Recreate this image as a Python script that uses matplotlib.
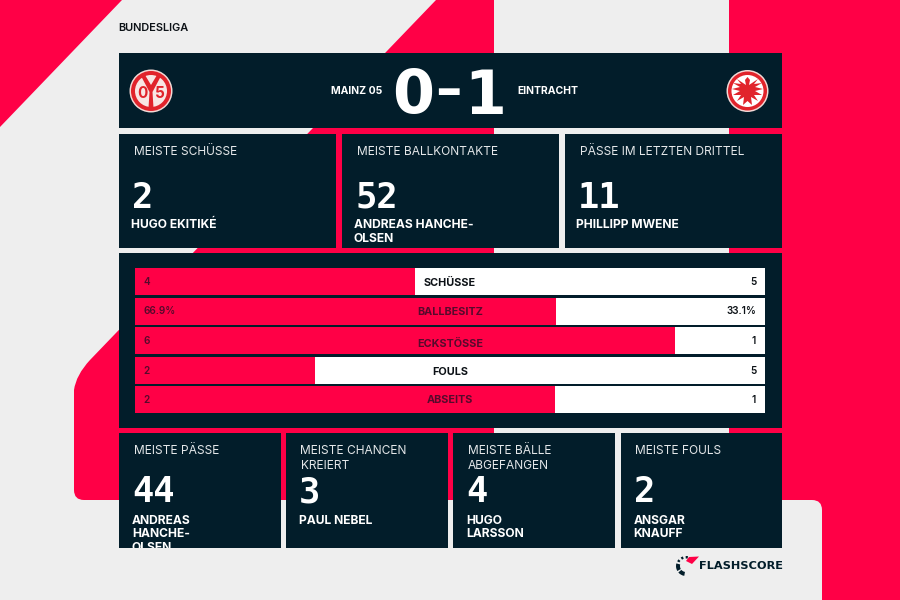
import matplotlib
matplotlib.use("Agg")
import matplotlib.pyplot as plt
from matplotlib.patches import Circle, PathPatch, Polygon, Rectangle, Wedge
from matplotlib.path import Path

RED = "#ff0046"
DARK = "#021d2a"
BG = "#eeeeee"
MAROON = "#560a2c"
INK = "#0c1116"
CREST = "#e1232b"

plt.rcParams["font.family"] = ["Inter", "Roboto", "DejaVu Sans"]

# Match stats
stat_labels = ["SCHÜSSE", "BALLBESITZ", "ECKSTÖSSE", "FOULS", "ABSEITS"]
home_values = [4, 66.9, 6, 2, 2]
away_values = [5, 33.1, 1, 5, 1]
home_text = ["4", "66.9%", "6", "2", "2"]
away_text = ["5", "33.1%", "1", "5", "1"]

# Header
competition = "BUNDESLIGA"
home_team = "MAINZ 05"
away_team = "EINTRACHT"
score_home = "0"
score_away = "1"

# Player cards
top_titles = ["MEISTE SCHÜSSE", "MEISTE BALLKONTAKTE", "PÄSSE IM LETZTEN DRITTEL"]
top_numbers = ["2", "52", "11"]
top_players = ["HUGO EKITIKÉ", "ANDREAS HANCHE-\nOLSEN", "PHILLIPP MWENE"]
bottom_titles = ["MEISTE PÄSSE", "MEISTE CHANCEN\nKREIERT", "MEISTE BÄLLE\nABGEFANGEN", "MEISTE FOULS"]
bottom_numbers = ["44", "3", "4", "2"]
bottom_players = ["ANDREAS\nHANCHE-\nOLSEN", "PAUL NEBEL", "HUGO\nLARSSON", "ANSGAR\nKNAUFF"]

fig = plt.figure(figsize=(9, 6), dpi=100, facecolor=BG)

# full page axes, units are pixels
ax = fig.add_axes([0, 0, 1, 1])
ax.set_xlim(0, 900)
ax.set_ylim(600, 0)
ax.axis("off")

# -------- Background shapes --------
ax.add_patch(Polygon([(0, 0), (122, 0), (0, 127)], color=RED, lw=0))

left_shape = Path(
    [(436, 0), (494, 0), (494, 500), (84, 500), (74, 500), (74, 490), (74, 390),
     (76, 375), (90, 360), (436, 0)],
    [Path.MOVETO, Path.LINETO, Path.LINETO, Path.LINETO, Path.CURVE3, Path.CURVE3,
     Path.LINETO, Path.CURVE3, Path.CURVE3, Path.LINETO],
)
ax.add_patch(PathPatch(left_shape, color=RED, lw=0))

right_shape = Path(
    [(729, 0), (900, 0), (900, 600), (822, 600), (822, 510), (822, 500), (812, 500),
     (729, 500), (729, 0)],
    [Path.MOVETO, Path.LINETO, Path.LINETO, Path.LINETO, Path.LINETO, Path.CURVE3,
     Path.CURVE3, Path.LINETO, Path.LINETO],
)
ax.add_patch(PathPatch(right_shape, color=RED, lw=0))


def panel(x0, y0, x1, y1):
    rect = Rectangle((x0, y0), x1 - x0, y1 - y0, color=DARK, lw=0)
    ax.add_patch(rect)
    return rect


def big_number(x, y, s):
    ax.text(x, y, s, color="white", fontsize=25.5, fontweight="bold", va="baseline",
            family=["DejaVu Sans Mono"])


# -------- Header --------
ax.text(118, 28, competition, color=INK, fontsize=7.9, fontweight="semibold", va="center")
panel(119, 53, 782, 128)
ax.text(382, 91, home_team, color="white", fontsize=7.5, fontweight="bold", va="center", ha="right")
ax.text(517, 91, away_team, color="white", fontsize=7.5, fontweight="bold", va="center", ha="left")
ax.text(413, 113.5, score_home, color="white", fontsize=43.5, fontweight="bold", ha="center", va="baseline",
        family=["DejaVu Sans"])
ax.text(448.5, 106, "–", color="white", fontsize=38, fontweight="bold", ha="center", va="baseline",
        family=["DejaVu Sans"])
ax.text(485, 113.5, score_away, color="white", fontsize=43.5, fontweight="bold", ha="center", va="baseline",
        family=["DejaVu Sans"])

# Mainz crest
ax.add_patch(Circle((151, 91), 21.5, color="#f3d9d6", lw=0))
ax.add_patch(Circle((151, 91), 20, color=CREST, lw=0))
ax.add_patch(Circle((151, 91), 16, color="#f8e6e4", lw=0))
ax.add_patch(Polygon([(148.5, 108), (153.5, 108), (152.5, 92), (161, 76), (157, 75), (151, 85), (145, 75),
                      (141, 76), (149.5, 92)], color=CREST, lw=0))
ax.text(142, 93, "0", color=CREST, fontsize=11, fontweight="bold", ha="center", va="center")
ax.text(160, 93, "5", color=CREST, fontsize=11, fontweight="bold", ha="center", va="center")

# Eintracht crest
ax.add_patch(Circle((747.5, 91), 21, color="#f3d9d6", lw=0))
ax.add_patch(Circle((747.5, 91), 19.5, color=CREST, lw=0))
ax.add_patch(Circle((747.5, 91), 16, color="white", lw=0))
eagle = [(747.5, 77), (750, 80), (749, 85), (758, 79), (754, 84), (762, 83), (755, 87), (763, 89),
         (755, 91), (762, 95), (754, 95), (758, 101), (751, 97), (752, 105), (747.5, 101), (743, 105),
         (744, 97), (737, 101), (741, 95), (733, 95), (740, 91), (732, 89), (740, 87), (733, 83),
         (741, 84), (737, 79), (746, 85), (745, 80)]
ax.add_patch(Polygon(eagle, color=CREST, lw=0))

# -------- Top cards --------
top_edges = [(119, 336), (342, 559), (564.5, 782)]
for (x0, x1), title, num, player in zip(top_edges, top_titles, top_numbers, top_players):
    panel(x0, 134, x1, 248)
    ax.text(x0 + 15, 152, title, color="#e4e7e9", fontsize=8.6, fontweight="normal", va="center")
    big_number(x0 + 13, 207.5, num)
    ax.text(x0 + 12, 219, player, color="white", fontsize=8.7, fontweight="bold", va="top", linespacing=1.2)

# -------- Stat bars --------
panel(119, 253, 782, 428)
bar_ax = fig.add_axes([135 / 900, 1 - 413.5 / 600, 630 / 900, 145.5 / 600])
bar_ax.set_xlim(0, 1)
bar_ax.set_ylim(4.46, -0.46)
bar_ax.axis("off")
rows = list(range(len(stat_labels)))
home_share = [h / (h + a) for h, a in zip(home_values, away_values)]
away_share = [a / (h + a) for h, a in zip(home_values, away_values)]
bar_ax.barh(rows, home_share, height=0.91, color=RED, lw=0)
bar_ax.barh(rows, away_share, left=home_share, height=0.91, color="white", lw=0)

label_shift = [0.03, 0.03, 0.1, 0.06, 0.01]
for i, (label, h_txt, a_txt, share) in enumerate(zip(stat_labels, home_text, away_text, home_share)):
    label_color = MAROON if share > 0.5 else INK
    bar_ax.text(0.5, i + label_shift[i], label, color=label_color, fontsize=7.8, fontweight="bold", ha="center", va="center")
    bar_ax.text(0.014, i + 0.01, h_txt, color=MAROON, fontsize=7.2, fontweight="semibold", ha="left", va="center")
    bar_ax.text(0.986, i + 0.01, a_txt, color=INK, fontsize=7.2, fontweight="semibold", ha="right", va="center")

# -------- Bottom cards --------
bottom_edges = [(119, 280.5), (286, 447.5), (453, 614.5), (620.5, 782)]
for (x0, x1), title, num, player in zip(bottom_edges, bottom_titles, bottom_numbers, bottom_players):
    rect = panel(x0, 433, x1, 548)
    ax.text(x0 + 14.5, 444.5, title, color="#e4e7e9", fontsize=8.6, fontweight="normal", va="top", linespacing=1.35)
    big_number(x0 + 13, 502.5, num)
    t = ax.text(x0 + 13, 514.5, player, color="white", fontsize=8.7, fontweight="bold", va="top", linespacing=1.2)
    t.set_clip_path(rect)
    t.set_clip_on(True)

# -------- Flashscore logo --------
for a1, a2, w in [(100, 140, 4), (150, 195, 4), (208, 222, 2.5), (238, 252, 2.5), (268, 282, 2.5), (298, 312, 2.5)]:
    ax.add_patch(Wedge((686, 566), 10, a1, a2, width=w, color=DARK, lw=0))
ax.add_patch(Polygon([(686, 561), (689, 557), (699, 556.5), (692, 564)], color=RED, lw=0))
ax.text(699.5, 566, "FLASHSCORE", color=DARK, fontsize=8.2, fontweight="bold", va="center",
        family=["DejaVu Sans"])

plt.savefig("out.png", dpi=100)
